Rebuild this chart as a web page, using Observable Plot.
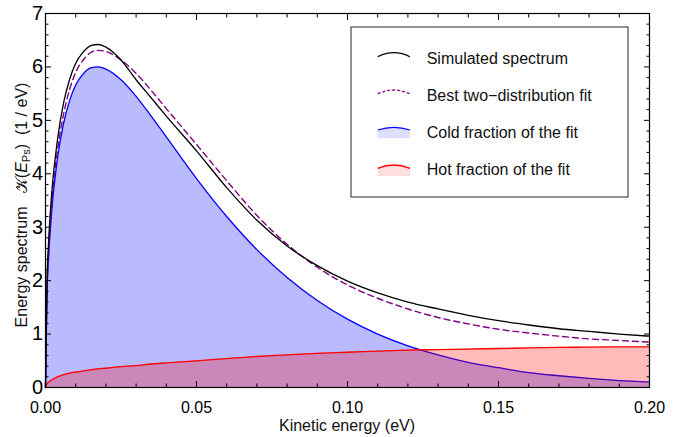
<!DOCTYPE html>
<html>
<head>
<meta charset="utf-8">
<script src="https://cdn.jsdelivr.net/npm/d3@7"></script>
<script src="https://cdn.jsdelivr.net/npm/@observablehq/plot@0.6"></script>
<style>
  html, body { margin: 0; padding: 0; background: #fff; }
  #chart svg { display: block; }
</style>
</head>
<body>
<div id="chart"></div>
<script>
// Kinetic energy grid (eV)
const energy = [0, 0.0005, 0.001, 0.002, 0.004, 0.006, 0.008, 0.010, 0.0125, 0.015, 0.0175,
  0.020, 0.025, 0.030, 0.035, 0.040, 0.050, 0.060, 0.070, 0.080, 0.090, 0.100,
  0.110, 0.120, 0.130, 0.140, 0.150, 0.160, 0.170, 0.180, 0.190, 0.200];

// Simulated spectrum (1/eV)
const simulated = [0, 2.00, 2.70, 3.60, 4.65, 5.33, 5.77, 6.07, 6.28, 6.40, 6.42,
  6.37, 6.13, 5.76, 5.42, 5.08, 4.43, 3.74, 3.13, 2.65, 2.28, 1.99,
  1.77, 1.60, 1.47, 1.35, 1.25, 1.17, 1.10, 1.05, 1.00, 0.96];

// Best two-distribution fit
const bestFit = [0, 1.85, 2.52, 3.40, 4.45, 5.12, 5.58, 5.90, 6.13, 6.27, 6.31,
  6.29, 6.13, 5.88, 5.56, 5.22, 4.55, 3.87, 3.22, 2.68, 2.25, 1.92,
  1.67, 1.47, 1.31, 1.19, 1.09, 1.02, 0.96, 0.91, 0.88, 0.85];

// Cold fraction of the fit
const coldFraction = [0, 1.75, 2.40, 3.25, 4.30, 4.95, 5.37, 5.66, 5.87, 5.98, 6.00,
  5.96, 5.76, 5.45, 5.08, 4.69, 3.91, 3.20, 2.58, 2.06, 1.63, 1.28,
  1.00, 0.78, 0.61, 0.47, 0.37, 0.28, 0.22, 0.17, 0.13, 0.10];

// Hot fraction of the fit
const hotFraction = [0, 0.07, 0.10, 0.14, 0.20, 0.24, 0.27, 0.29, 0.31, 0.33, 0.35,
  0.36, 0.39, 0.41, 0.44, 0.46, 0.50, 0.54, 0.58, 0.61, 0.64, 0.66,
  0.68, 0.70, 0.71, 0.72, 0.73, 0.74, 0.75, 0.755, 0.76, 0.76];

// Axis ticks
const xMajorTicks = [0, 0.05, 0.10, 0.15, 0.20];
const xTickLabels = ["0.00", "0.05", "0.10", "0.15", "0.20"];
const xMinorTicks = [0.01, 0.02, 0.03, 0.04, 0.06, 0.07, 0.08, 0.09, 0.11, 0.12, 0.13, 0.14, 0.16, 0.17, 0.18, 0.19];
const yMajorTicks = [0, 1, 2, 3, 4, 5, 6, 7];
const yTickLabels = ["0", "1", "2", "3", "4", "5", "6", "7"];
const yMinorTicks = [0.2, 0.4, 0.6, 0.8, 1.2, 1.4, 1.6, 1.8, 2.2, 2.4, 2.6, 2.8, 3.2, 3.4, 3.6, 3.8,
  4.2, 4.4, 4.6, 4.8, 5.2, 5.4, 5.6, 5.8, 6.2, 6.4, 6.6, 6.8];

const legendItems = ["Simulated spectrum", "Best two\u2212distribution fit", "Cold fraction of the fit", "Hot fraction of the fit"];

const rows = energy.map((e, i) => ({
  e, sim: simulated[i], fit: bestFit[i], cold: coldFraction[i], hot: hotFraction[i]
}));

const curve = "monotone-x";
const blank = () => "";

const svg = Plot.plot({
  width: 689,
  height: 437,
  marginLeft: 45,
  marginRight: 40,
  marginTop: 13,
  marginBottom: 50,
  x: {domain: [0, 0.2]},
  y: {domain: [0, 7]},
  style: {fontFamily: "'Liberation Sans', Arial, sans-serif", background: "#fff", color: "#000"},
  marks: [
    Plot.areaY(rows, {x: "e", y: "cold", fill: "#0000ff", fillOpacity: 0.27, curve}),
    Plot.lineY(rows, {x: "e", y: "cold", stroke: "#0000ff", strokeWidth: 1.3, curve}),
    Plot.areaY(rows, {x: "e", y: "hot", fill: "#ff0000", fillOpacity: 0.27, curve}),
    Plot.lineY(rows, {x: "e", y: "hot", stroke: "#ff0000", strokeWidth: 1.3, curve}),
    Plot.lineY(rows, {x: "e", y: "fit", stroke: "#800080", strokeWidth: 1.4, strokeDasharray: "6,4", curve}),
    Plot.lineY(rows, {x: "e", y: "sim", stroke: "#000", strokeWidth: 1.3, curve}),

    // inward ticks on all four sides
    Plot.axisX({anchor: "bottom", ticks: xMajorTicks, tickSize: -6, tickPadding: 20, fontSize: 16,
      tickFormat: d => xTickLabels[xMajorTicks.indexOf(d)], label: null}),
    Plot.axisX({anchor: "bottom", ticks: xMinorTicks, tickSize: -3.5, tickFormat: blank, label: null}),
    Plot.axisX({anchor: "top", ticks: xMajorTicks, tickSize: -6, tickFormat: blank, label: null}),
    Plot.axisX({anchor: "top", ticks: xMinorTicks, tickSize: -3.5, tickFormat: blank, label: null}),
    Plot.axisY({anchor: "left", ticks: yMajorTicks, tickSize: -6, tickPadding: 8.5, fontSize: 20,
      tickFormat: d => yTickLabels[yMajorTicks.indexOf(d)], label: null}),
    Plot.axisY({anchor: "left", ticks: yMinorTicks, tickSize: -3.5, tickFormat: blank, label: null}),
    Plot.axisY({anchor: "right", ticks: yMajorTicks, tickSize: -6, tickFormat: blank, label: null}),
    Plot.axisY({anchor: "right", ticks: yMinorTicks, tickSize: -3.5, tickFormat: blank, label: null}),
    Plot.frame({stroke: "#000", strokeWidth: 1.2})
  ]
});

const root = d3.select(svg);
const font = "'Liberation Sans', Arial, sans-serif";

// x-axis title
root.append("text")
  .attr("x", 347).attr("y", 431)
  .attr("text-anchor", "middle")
  .attr("font-family", font).attr("font-size", 16).attr("fill", "#111")
  .text("Kinetic energy (eV)");

// y-axis title with the spectrum symbol
const yt = root.append("text")
  .attr("transform", "translate(27,205) rotate(-90)")
  .attr("text-anchor", "middle")
  .attr("font-family", font).attr("font-size", 16).attr("fill", "#111")
  .style("white-space", "pre");
yt.append("tspan").text("Energy spectrum   ");
yt.append("tspan").attr("font-family", "'DejaVu Serif', 'DejaVu Sans', serif").text("\u{1D4A6}");
yt.append("tspan").text("(");
yt.append("tspan").attr("font-style", "italic").text("E");
yt.append("tspan").attr("font-size", 11).attr("dy", 3).text("Ps");
yt.append("tspan").attr("dy", -3).text(")");
yt.append("tspan").text("  (1 / eV)");

// legend
const lg = root.append("g");
lg.append("rect")
  .attr("x", 351).attr("y", 27).attr("width", 277).attr("height", 170)
  .attr("fill", "#fff").attr("stroke", "#222").attr("stroke-width", 1);

const rowsY = [56.7, 94, 130, 168.3];
const baselines = [64, 100.5, 138, 175];
const swatch = (y, h) => `M377.7,${y} Q393.8,${y - 2 * h} 410,${y}`;

// filled swatches for the two fractions
lg.append("path").attr("d", swatch(rowsY[2], 2.7) + ` L410,138.3 L377.7,138.3 Z`)
  .attr("fill", "#0000ff").attr("fill-opacity", 0.13);
lg.append("path").attr("d", swatch(rowsY[3], 3.3) + ` L410,176 L377.7,176 Z`)
  .attr("fill", "#ff0000").attr("fill-opacity", 0.13);

lg.append("path").attr("d", swatch(rowsY[0], 4)).attr("fill", "none").attr("stroke", "#000").attr("stroke-width", 1.2);
lg.append("path").attr("d", swatch(rowsY[1], 4)).attr("fill", "none").attr("stroke", "#800080").attr("stroke-width", 1.3).attr("stroke-dasharray", "3,2");
lg.append("path").attr("d", swatch(rowsY[2], 2.7)).attr("fill", "none").attr("stroke", "#0000ff").attr("stroke-width", 1.3);
lg.append("path").attr("d", swatch(rowsY[3], 3.3)).attr("fill", "none").attr("stroke", "#ff0000").attr("stroke-width", 1.3);

legendItems.forEach((t, i) => {
  lg.append("text")
    .attr("x", 426.7).attr("y", baselines[i])
    .attr("text-anchor", "start")
    .attr("font-family", font).attr("font-size", 16).attr("fill", "#111")
    .text(t);
});

document.getElementById("chart").appendChild(svg);
</script>
</body>
</html>
